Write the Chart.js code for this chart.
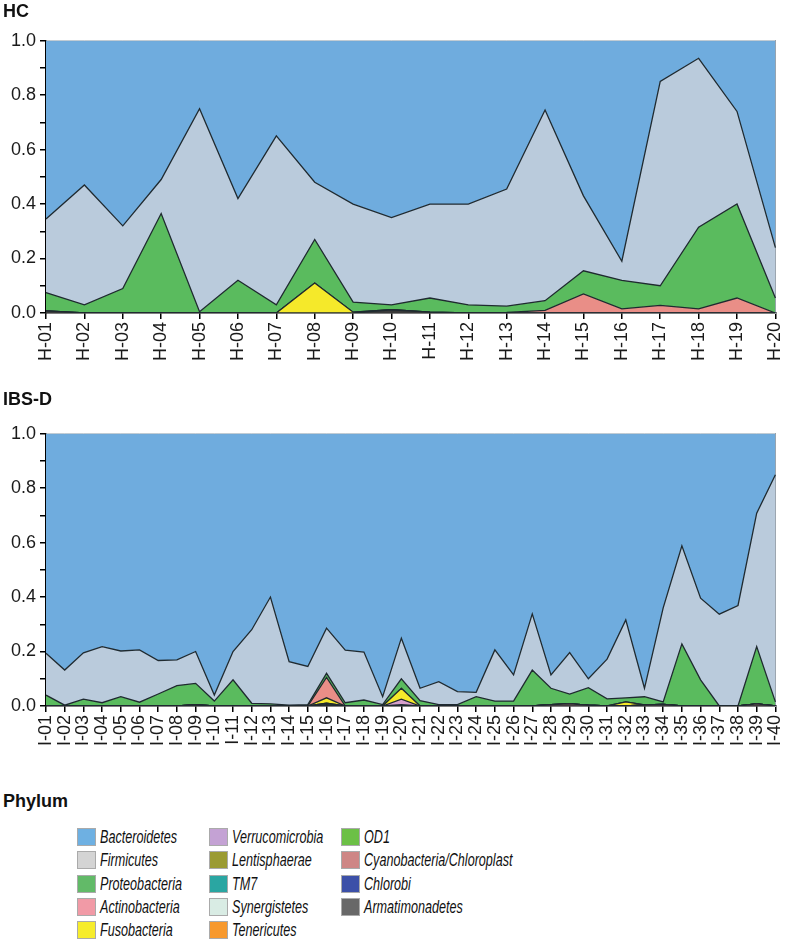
<!DOCTYPE html>
<html lang="en">
<head>
    <meta charset="UTF-8">
    <title>Phylum composition HC / IBS-D</title>

    <!-- Include Chart.js -->
    <script src="https://cdn.jsdelivr.net/npm/chart.js"></script>

    <style>
        body { margin: 0; background: #fff; width: 800px; height: 945px; position: relative; overflow: hidden;
               font-family: "Liberation Sans", Arial, sans-serif; }
        #hcChart { position: absolute; left: 0; top: 0; }
        #ibsChart { position: absolute; left: 0; top: 385px; }
        #legendTitle { position: absolute; left: 3px; top: 790px; font-size: 18px; font-weight: bold; color: #111; line-height: 22px; }
        .legItem { position: absolute; height: 19px; }
        .legBox { position: absolute; left: 0; top: 0; width: 19px; height: 18px; border: 1px solid #aaa; box-sizing: border-box; }
        .legText { position: absolute; left: 23px; top: -2px; font-size: 18px; font-style: italic; color: #111;
                   white-space: nowrap; line-height: 22px; transform: scaleX(0.7); transform-origin: left center; }
    </style>
</head>
<body>

<canvas id="hcChart" width="800" height="385"></canvas>
<canvas id="ibsChart" width="800" height="395"></canvas>
<div id="legendTitle">Phylum</div>
<div id="legend"></div>

<script>
    // sample labels
    const hcLabels = ['H-01','H-02','H-03','H-04','H-05','H-06','H-07','H-08','H-09','H-10',
                      'H-11','H-12','H-13','H-14','H-15','H-16','H-17','H-18','H-19','H-20'];
    const ibsLabels = ['I-01','I-02','I-03','I-04','I-05','I-06','I-07','I-08','I-09','I-10',
                       'I-11','I-12','I-13','I-14','I-15','I-16','I-17','I-18','I-19','I-20',
                       'I-21','I-22','I-23','I-24','I-25','I-26','I-27','I-28','I-29','I-30',
                       'I-31','I-32','I-33','I-34','I-35','I-36','I-37','I-38','I-39','I-40'];

    // HC relative abundances
    const hcArmatimonadetes = [0.008,0,0,0,0,0,0,0,0,0.012,0.003,0,0,0,0,0,0,0,0,0];
    const hcFusobacteria    = [0,0,0,0,0,0,0,0.11,0.003,0,0,0,0,0,0,0,0,0,0,0];
    const hcActinobacteria  = [0,0,0,0,0,0,0,0,0,0,0,0,0.002,0.01,0.07,0.015,0.028,0.015,0.055,0];
    const hcProteobacteria  = [0.067,0.03,0.09,0.365,0.005,0.12,0.03,0.16,0.037,0.018,
                               0.052,0.03,0.023,0.035,0.085,0.105,0.072,0.30,0.345,0.055];
    const hcFirmicutes      = [0.27,0.44,0.23,0.125,0.745,0.30,0.62,0.21,0.36,0.32,
                               0.345,0.37,0.43,0.70,0.275,0.07,0.75,0.62,0.34,0.185];
    const hcBacteroidetes   = [0.655,0.53,0.68,0.51,0.25,0.58,0.35,0.52,0.60,0.65,
                               0.60,0.60,0.545,0.255,0.57,0.81,0.15,0.065,0.26,0.76];

    // IBS-D relative abundances
    const ibsArmatimonadetes = [0,0,0,0,0,0,0,0,0.004,0, 0,0,0,0,0,0,0,0,0,0,
                                0,0,0,0,0,0,0,0,0,0, 0,0,0,0,0,0,0,0,0,0];
    const ibsCyanobacteria   = [0,0,0,0,0,0,0,0,0,0, 0,0,0,0,0,0,0,0,0,0,
                                0,0,0,0,0,0,0,0.005,0.008,0.003, 0,0,0.004,0.006,0,0,0,0,0.008,0];
    const ibsTenericutes     = [0,0,0,0,0,0,0,0,0,0, 0,0,0,0,0,0.005,0,0,0,0,
                                0,0,0,0,0,0,0,0,0,0, 0,0,0,0,0,0,0,0,0,0];
    const ibsLentisphaerae   = [0,0,0,0,0,0,0,0,0,0, 0,0,0,0,0,0.005,0,0,0,0.005,
                                0,0,0,0,0,0,0,0,0,0, 0,0,0,0,0,0,0,0,0,0];
    const ibsVerrucomicrobia = [0,0,0,0,0,0,0,0,0,0, 0,0,0,0,0,0,0,0,0,0.02,
                                0,0,0,0,0,0,0,0,0,0, 0,0,0,0,0,0,0,0,0,0];
    const ibsFusobacteria    = [0,0,0,0,0,0,0,0,0,0, 0,0,0,0,0,0.02,0,0,0,0.04,
                                0,0,0,0,0,0,0,0,0,0, 0,0.015,0,0,0,0,0,0,0,0];
    const ibsActinobacteria  = [0,0,0,0,0,0,0,0,0,0, 0,0,0,0,0,0.075,0,0,0,0,
                                0,0,0,0,0,0,0,0,0,0, 0,0,0,0,0,0,0,0,0,0];
    const ibsProteobacteria  = [0.04,0.003,0.025,0.012,0.034,0.014,0.044,0.075,0.079,0.018,
                                0.096,0.01,0.008,0.003,0.005,0.015,0.012,0.022,0.005,0.035,
                                0.02,0.005,0.005,0.034,0.018,0.018,0.132,0.06,0.036,0.064,
                                0.026,0.015,0.03,0.009,0.228,0.096,0,0,0.21,0.015];
    const ibsFirmicutes      = [0.154,0.129,0.17,0.206,0.168,0.192,0.123,0.094,0.117,0.022,
                                0.104,0.27,0.392,0.16,0.14,0.166,0.193,0.176,0.029,0.149,
                                0.045,0.084,0.048,0.016,0.188,0.096,0.206,0.049,0.152,0.033,
                                0.146,0.286,0.031,0.345,0.36,0.30,0.337,0.369,0.49,0.834];
    const ibsBacteroidetes   = [0.806,0.868,0.805,0.782,0.798,0.794,0.833,0.831,0.80,0.96,
                                0.80,0.72,0.60,0.837,0.855,0.714,0.795,0.802,0.966,0.751,
                                0.935,0.911,0.947,0.95,0.794,0.886,0.662,0.886,0.804,0.90,
                                0.828,0.684,0.935,0.64,0.412,0.604,0.663,0.631,0.292,0.151];

    // legend (phylum names and swatch colours)
    const phylumNames = ['Bacteroidetes','Firmicutes','Proteobacteria','Actinobacteria','Fusobacteria',
                         'Verrucomicrobia','Lentisphaerae','TM7','Synergistetes','Tenericutes',
                         'OD1','Cyanobacteria/Chloroplast','Chlorobi','Armatimonadetes'];
    const phylumColors = ['#6eb0e2','#d4d4d4','#62ba68','#f19aa6','#f6ec2c',
                          '#c4a2d4','#9b9b32','#2aa6a2','#d9ece4','#f7992e',
                          '#6cc046','#ce8685','#3c50a8','#686868'];
    // the filled areas are drawn a bit differently from the swatches
    const areaColors = {
        Bacteroidetes: '#6facde', Firmicutes: '#bacbdc', Proteobacteria: '#5abb5e',
        Actinobacteria: '#e98e87', Fusobacteria: '#f5e92a', Verrucomicrobia: '#d7a0cc',
        Lentisphaerae: '#4d6b30', Tenericutes: '#f7992e', Cyanobacteria: '#b97a72',
        Armatimonadetes: '#3a3a3a'
    };

    Chart.defaults.font.family = '"Liberation Sans", Arial, sans-serif';
    Chart.defaults.color = '#1a1a1a';

    function buildDatasets(layers) {
        return layers.map(function (l, i) {
            const top = l[0] === 'Bacteroidetes';
            return {
                label: l[0],
                data: l[1],
                backgroundColor: areaColors[l[0]],
                borderColor: top ? '#8d9aa6' : '#1f2a30',
                borderWidth: top ? 1 : 1.3,
                fill: i === 0 ? 'origin' : '-1',
                pointRadius: 0,
                tension: 0
            };
        });
    }

    function makeChart(canvasId, title, titlePad, labels, layers, axisHeight) {
        const ctx = document.getElementById(canvasId).getContext('2d');
        return new Chart(ctx, {
            type: 'line',
            data: { labels: labels, datasets: buildDatasets(layers) },
            options: {
                responsive: false,
                animation: false,
                events: [],
                layout: { padding: { left: 3, right: 9, top: 0, bottom: 0 } },
                plugins: {
                    legend: { display: false },
                    tooltip: { enabled: false },
                    title: {
                        display: true, text: title, align: 'start',
                        color: '#111',
                        font: { size: 18, weight: 'bold' },
                        padding: titlePad
                    }
                },
                scales: {
                    x: {
                        offset: false,
                        grid: { drawOnChartArea: false, drawTicks: true, tickLength: 6, color: '#000', lineWidth: 1.5 },
                        border: { display: true, color: '#000', width: 1.5 },
                        ticks: { autoSkip: false, minRotation: 90, maxRotation: 90, padding: 3,
                                 font: { size: 18 }, color: '#1a1a1a' },
                        afterFit: function (scale) { scale.height = axisHeight; }
                    },
                    y: {
                        stacked: true,
                        min: 0, max: 1,
                        grid: { drawOnChartArea: false, drawTicks: true, tickLength: 6, color: '#000', lineWidth: 1.5 },
                        border: { display: true, color: '#000', width: 1.5 },
                        ticks: {
                            stepSize: 0.1, padding: 4, font: { size: 18 }, color: '#1a1a1a',
                            callback: function (v) {
                                return Math.round(v * 10) % 2 === 0 ? v.toFixed(1) : '';
                            }
                        },
                        afterFit: function (scale) { scale.width = 43; }
                    },
                    yRight: {
                        position: 'right',
                        min: 0, max: 1,
                        grid: { display: false },
                        border: { display: true, color: '#9aa4ad', width: 1 },
                        ticks: { display: false },
                        afterFit: function (scale) { scale.width = 0; }
                    }
                }
            }
        });
    }

    makeChart('hcChart', 'HC', { top: 1, bottom: 18 }, hcLabels, [
        ['Armatimonadetes', hcArmatimonadetes],
        ['Fusobacteria', hcFusobacteria],
        ['Actinobacteria', hcActinobacteria],
        ['Proteobacteria', hcProteobacteria],
        ['Firmicutes', hcFirmicutes],
        ['Bacteroidetes', hcBacteroidetes]
    ], 72);

    makeChart('ibsChart', 'IBS-D', { top: 4, bottom: 23 }, ibsLabels, [
        ['Armatimonadetes', ibsArmatimonadetes],
        ['Cyanobacteria', ibsCyanobacteria],
        ['Tenericutes', ibsTenericutes],
        ['Lentisphaerae', ibsLentisphaerae],
        ['Verrucomicrobia', ibsVerrucomicrobia],
        ['Fusobacteria', ibsFusobacteria],
        ['Actinobacteria', ibsActinobacteria],
        ['Proteobacteria', ibsProteobacteria],
        ['Firmicutes', ibsFirmicutes],
        ['Bacteroidetes', ibsBacteroidetes]
    ], 74);

    // phylum legend, 3 columns of 5
    const legend = document.getElementById('legend');
    const colX = [77, 209, 341];
    phylumNames.forEach(function (name, i) {
        const col = Math.floor(i / 5), row = i % 5;
        const item = document.createElement('div');
        item.className = 'legItem';
        item.style.left = colX[col] + 'px';
        item.style.top = (828 + row * 23.3) + 'px';
        item.innerHTML = '<div class="legBox" style="background:' + phylumColors[i] + '"></div>' +
                         '<div class="legText">' + name + '</div>';
        legend.appendChild(item);
    });
</script>

</body>
</html>
